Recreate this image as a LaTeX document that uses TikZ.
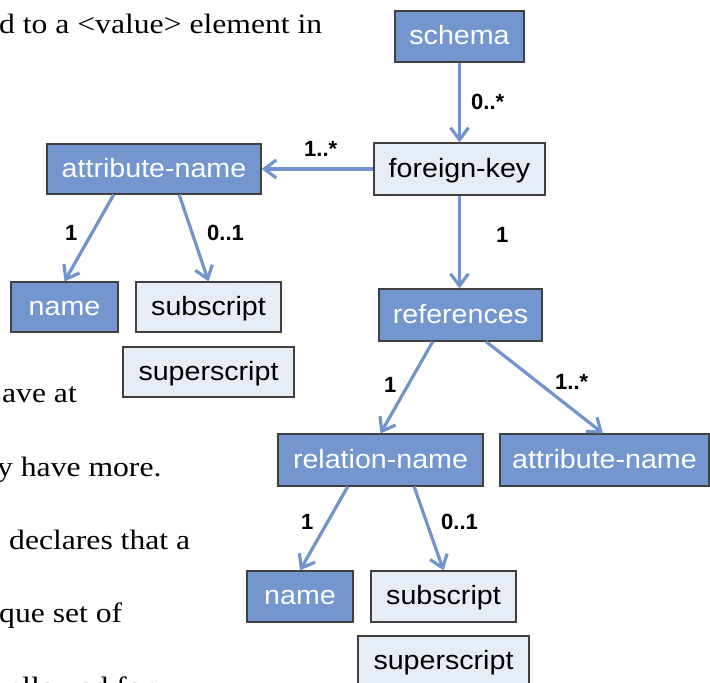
\documentclass[tikz,border=0pt]{standalone}
\usepackage{fontspec}
\usetikzlibrary{arrows.meta,calc}
\newfontfamily\boxfont{Liberation Sans}[FakeStretch=1.08]
\newfontfamily\labfont{Liberation Sans}
\newfontfamily\bodyfont{Liberation Serif}[FakeStretch=1.13]
\definecolor{darkfill}{RGB}{114,150,205}
\definecolor{lightfill}{RGB}{231,237,247}
\definecolor{edgegray}{RGB}{64,64,64}
\definecolor{linkblue}{RGB}{114,148,204}
\tikzset{
  box/.style={draw=edgegray, line width=1.2pt, inner sep=0pt,
    font=\boxfont\fontsize{26.5}{30}\selectfont, text height=18pt, text depth=2pt},
  darkbox/.style={box, fill=darkfill, text=white},
  lightbox/.style={box, fill=lightfill, text=black},
  link/.style={draw=linkblue, line width=3.2pt,
    -{Straight Barb[length=12pt,width=18pt]}},
  mult/.style={font=\labfont\bfseries\fontsize{22}{26}\selectfont, inner sep=0pt, anchor=base west},
  bodytext/.style={font=\bodyfont\fontsize{28}{32}\selectfont, inner sep=0pt, anchor=base west}
}
\begin{document}
\begin{tikzpicture}[x=1pt,y=-1pt]
\useasboundingbox (0,0) rectangle (710,683);
\clip (0,0) rectangle (710,683);
\fill[white] (0,0) rectangle (710,683);

% surrounding document text
\node[bodytext] (t1) at (-1,33) {d to a <value> element in};
\node[bodytext] (t2) at (2,402) {ave at};
\node[bodytext] (t3) at (-3,476) {y have more.};
\node[bodytext] (t4) at (9,549) {declares that a};
\node[bodytext] (t5) at (-1,622) {que set of};
\node[bodytext] (t6) at (8,696) {allowed for};

% element boxes
\node[darkbox, minimum width=129, minimum height=51] (schema) at (459.5,36.5) {schema};
\node[lightbox, minimum width=171, minimum height=52] (fk) at (459.5,169) {foreign-key};
\node[darkbox, minimum width=214, minimum height=50] (attrL) at (154,169) {attribute-name};
\node[darkbox, minimum width=107, minimum height=50] (nameL) at (64.5,307) {name};
\node[lightbox, minimum width=145, minimum height=50] (subL) at (208.5,307) {subscript};
\node[lightbox, minimum width=171, minimum height=50] (supL) at (208.5,372) {superscript};
\node[darkbox, minimum width=163, minimum height=52] (refs) at (460.5,315) {references};
\node[darkbox, minimum width=205, minimum height=52] (relname) at (380.5,460) {relation-name};
\node[darkbox, minimum width=209, minimum height=52] (attrR) at (604.5,460) {attribute-name};
\node[darkbox, minimum width=106, minimum height=51] (nameB) at (300,596.5) {name};
\node[lightbox, minimum width=145, minimum height=51] (subB) at (443.5,596.5) {subscript};
\node[lightbox, minimum width=171, minimum height=51] (supB) at (443.5,661.5) {superscript};

% connectors
\draw[link] (schema.south) -- (fk.north);
\draw[link] (fk.west) -- (attrL.east);
\draw[link] (fk.south) -- (fk.south |- refs.north);
\draw[link] ($(attrL.south west)!0.313!(attrL.south east)$) -- (nameL.north);
\draw[link] ($(attrL.south west)!0.617!(attrL.south east)$) -- (subL.north);
\draw[link] ($(refs.south west)!0.331!(refs.south east)$) -- (relname.north);
\draw[link] ($(refs.south west)!0.656!(refs.south east)$) -- ($(attrR.north)+(-1.5,0)$);
\draw[link] ($(relname.south west)!0.341!(relname.south east)$) -- (nameB.north);
\draw[link] ($(relname.south west)!0.663!(relname.south east)$) -- (subB.north);

% multiplicities
\node[mult] (m1) at (471,109) {0..*};
\node[mult] (m2) at (304,156) {1..*};
\node[mult] (m3) at (496,242) {1};
\node[mult] (m4) at (65,240) {1};
\node[mult] (m5) at (207,240) {0..1};
\node[mult] (m6) at (384,392) {1};
\node[mult] (m7) at (555,389) {1..*};
\node[mult] (m8) at (301,529) {1};
\node[mult] (m9) at (441,529) {0..1};
\end{tikzpicture}
\end{document}
